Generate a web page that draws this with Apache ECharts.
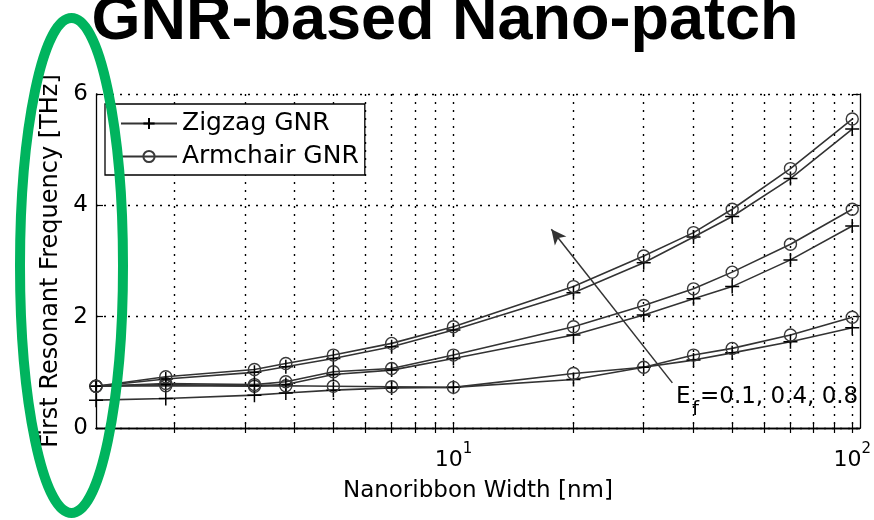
<!DOCTYPE html>
<html>
<head>
<meta charset="utf-8">
<title>GNR-based Nano-patch</title>
<script src="https://cdn.jsdelivr.net/npm/echarts@6/dist/echarts.min.js"></script>
<style>
    html, body { margin: 0; padding: 0; background: #fff; }
    #chart { width: 874px; height: 520px; }
</style>
</head>
<body>
<div id="chart"></div>
<script>
    // nanoribbon width [nm]
    const widths = [1.27, 1.9, 3.17, 3.8, 5, 7, 10, 20, 30, 40, 50, 70, 100]

    // first resonant frequency [THz], Ef = 0.1 / 0.4 / 0.8
    const zigzag01 = [0.50, 0.53, 0.59, 0.63, 0.68, 0.72, 0.73, 0.87, 1.09, 1.22, 1.35, 1.55, 1.80]
    const armchair01 = [0.75, 0.76, 0.75, 0.76, 0.75, 0.74, 0.73, 0.98, 1.09, 1.31, 1.43, 1.67, 1.99]
    const zigzag04 = [0.75, 0.78, 0.76, 0.78, 0.96, 1.04, 1.25, 1.67, 2.03, 2.32, 2.54, 3.02, 3.63]
    const armchair04 = [0.75, 0.80, 0.78, 0.83, 1.01, 1.07, 1.31, 1.82, 2.20, 2.50, 2.80, 3.30, 3.93]
    const zigzag08 = [0.75, 0.88, 1.00, 1.10, 1.25, 1.46, 1.76, 2.43, 2.97, 3.43, 3.80, 4.48, 5.37]
    const armchair08 = [0.75, 0.92, 1.05, 1.16, 1.31, 1.52, 1.82, 2.54, 3.09, 3.51, 3.93, 4.66, 5.55]

    // axis ticks
    const widthTicks = [2, 3, 4, 5, 6, 7, 8, 9, 10, 20, 30, 40, 50, 60, 70, 80, 90, 100]
    const widthLabels = [10, 100]
    const freqMin = 0
    const freqMax = 6
    const freqStep = 2

    // arrow pointing to higher Fermi level, [width, freq]
    const arrowFrom = [35.4, 0.81]
    const arrowTo = [17.6, 3.57]
    const fermiText = '=0.1, 0.4, 0.8'

    const legendNames = ['Zigzag GNR', 'Armchair GNR']

    let font = 'DejaVu Sans'
    let lineColor = '#333'
    let plusPath = 'path://M0,7L14,7M7,0L7,14'

    function makeSeries(name, values, isZigzag) {
        let s = {
            type: 'line',
            name: name,
            data: widths.map((w, i) => [w, values[i]]),
            symbol: isZigzag ? plusPath : 'circle',
            symbolSize: isZigzag ? 14 : 12,
            lineStyle: { color: lineColor, width: 1.6 },
            itemStyle: isZigzag
                ? { color: '#000', borderColor: '#000', borderWidth: 1.5 }
                : { color: 'rgba(0,0,0,0)', borderColor: '#3a3a3a', borderWidth: 1.4 },
            emphasis: { disabled: true },
            z: 3
        }
        return s
    }

    let series = [
        makeSeries(legendNames[0], zigzag01, true),
        makeSeries(legendNames[1], armchair01, false),
        makeSeries(legendNames[0], zigzag04, true),
        makeSeries(legendNames[1], armchair04, false),
        makeSeries(legendNames[0], zigzag08, true),
        makeSeries(legendNames[1], armchair08, false)
    ]

    // arrow annotation
    series[0].markLine = {
        silent: true,
        symbol: ['none', 'arrow'],
        symbolSize: [11, 15],
        label: { show: false },
        lineStyle: { color: '#333', width: 1.5, type: 'solid' },
        data: [[{ coord: arrowFrom }, { coord: arrowTo }]]
    }

    let gridLine = { show: true, lineStyle: { color: '#000', width: 1.4, type: [2, 6] } }
    let border = { show: true, lineStyle: { color: '#000', width: 1.3 } }

    let xBase = {
        type: 'log',
        logBase: 10,
        min: widths[0],
        max: 104.5,
        axisLine: border,
        axisTick: { show: true, inside: true, length: 5, customValues: widthTicks, lineStyle: { color: '#000', width: 1.2 } },
        minorTick: { show: false }
    }

    let option = {
        animation: false,
        backgroundColor: '#fff',
        grid: { left: 96, right: 10, top: 94, bottom: 92, containLabel: false },
        legend: {
            orient: 'vertical',
            left: 105,
            top: 104,
            data: legendNames,
            selectedMode: false,
            itemWidth: 56,
            itemHeight: 14,
            itemGap: 8,
            padding: [7, 6, 6, 15],
            backgroundColor: '#fff',
            borderColor: '#000',
            borderWidth: 1.3,
            textStyle: { fontFamily: font, fontSize: 25, color: '#000' }
        },
        xAxis: [
            Object.assign({}, xBase, {
                position: 'bottom',
                name: 'Nanoribbon Width [nm]',
                nameLocation: 'middle',
                nameGap: 52,
                nameTextStyle: { fontFamily: font, fontSize: 23, color: '#000' },
                splitLine: gridLine,
                axisLabel: {
                    show: true,
                    margin: 14,
                    customValues: widthLabels,
                    formatter: function (v) {
                        let p = Math.round(Math.log10(v))
                        if (Math.abs(Math.pow(10, p) - v) > 1e-6) return ''
                        return '{b|10}{s|' + p + '}'
                    },
                    rich: {
                        b: { fontFamily: font, fontSize: 22, color: '#000' },
                        s: { fontFamily: font, fontSize: 15, color: '#000', padding: [0, 0, 22, 0] }
                    }
                }
            }),
            Object.assign({}, xBase, {
                position: 'top',
                splitLine: { show: false },
                axisLabel: { show: false }
            })
        ],
        yAxis: [
            {
                type: 'value',
                min: freqMin,
                max: freqMax,
                interval: freqStep,
                position: 'left',
                name: 'First Resonant Frequency [THz]',
                nameLocation: 'middle',
                nameGap: 31,
                nameTextStyle: { fontFamily: font, fontSize: 24, color: '#000' },
                axisLine: border,
                axisTick: { show: true, inside: true, length: 7, lineStyle: { color: '#000', width: 1.2 } },
                axisLabel: { margin: 8, fontFamily: font, fontSize: 23, color: '#000' },
                splitLine: gridLine
            },
            {
                type: 'value',
                min: freqMin,
                max: freqMax,
                interval: freqStep,
                position: 'right',
                axisLine: border,
                axisTick: { show: true, inside: true, length: 7, lineStyle: { color: '#000', width: 1.2 } },
                axisLabel: { show: false },
                splitLine: { show: false }
            }
        ],
        series: series,
        graphic: [
            {
                type: 'text',
                x: 445,
                y: 22,
                style: {
                    text: 'GNR-based Nano-patch',
                    font: 'bold 63px "Liberation Sans", Arial, sans-serif',
                    fill: '#000',
                    align: 'center', verticalAlign: 'middle',
                    textAlign: 'center', textVerticalAlign: 'middle'
                }
            },
            {
                type: 'group',
                children: [
                    {
                        type: 'text', x: 676, y: 397,
                        style: { text: 'E', font: '23px "DejaVu Sans"', fill: '#000', verticalAlign: 'middle', textVerticalAlign: 'middle' }
                    },
                    {
                        type: 'text', x: 692, y: 410,
                        style: { text: 'f', font: '20px "DejaVu Sans"', fill: '#000', verticalAlign: 'middle', textVerticalAlign: 'middle' }
                    },
                    {
                        type: 'text', x: 700, y: 397,
                        style: { text: fermiText, font: '23px "DejaVu Sans"', fill: '#000', verticalAlign: 'middle', textVerticalAlign: 'middle' }
                    }
                ]
            },
            {
                // highlight ring around the y axis
                type: 'ellipse',
                z: 100,
                shape: { cx: 71.5, cy: 265.5, rx: 51.5, ry: 247.5 },
                style: { fill: 'none', stroke: '#00B45E', lineWidth: 10 }
            }
        ]
    }

    let myChart = echarts.init(document.getElementById('chart'))
    myChart.setOption(option)
</script>
</body>
</html>
